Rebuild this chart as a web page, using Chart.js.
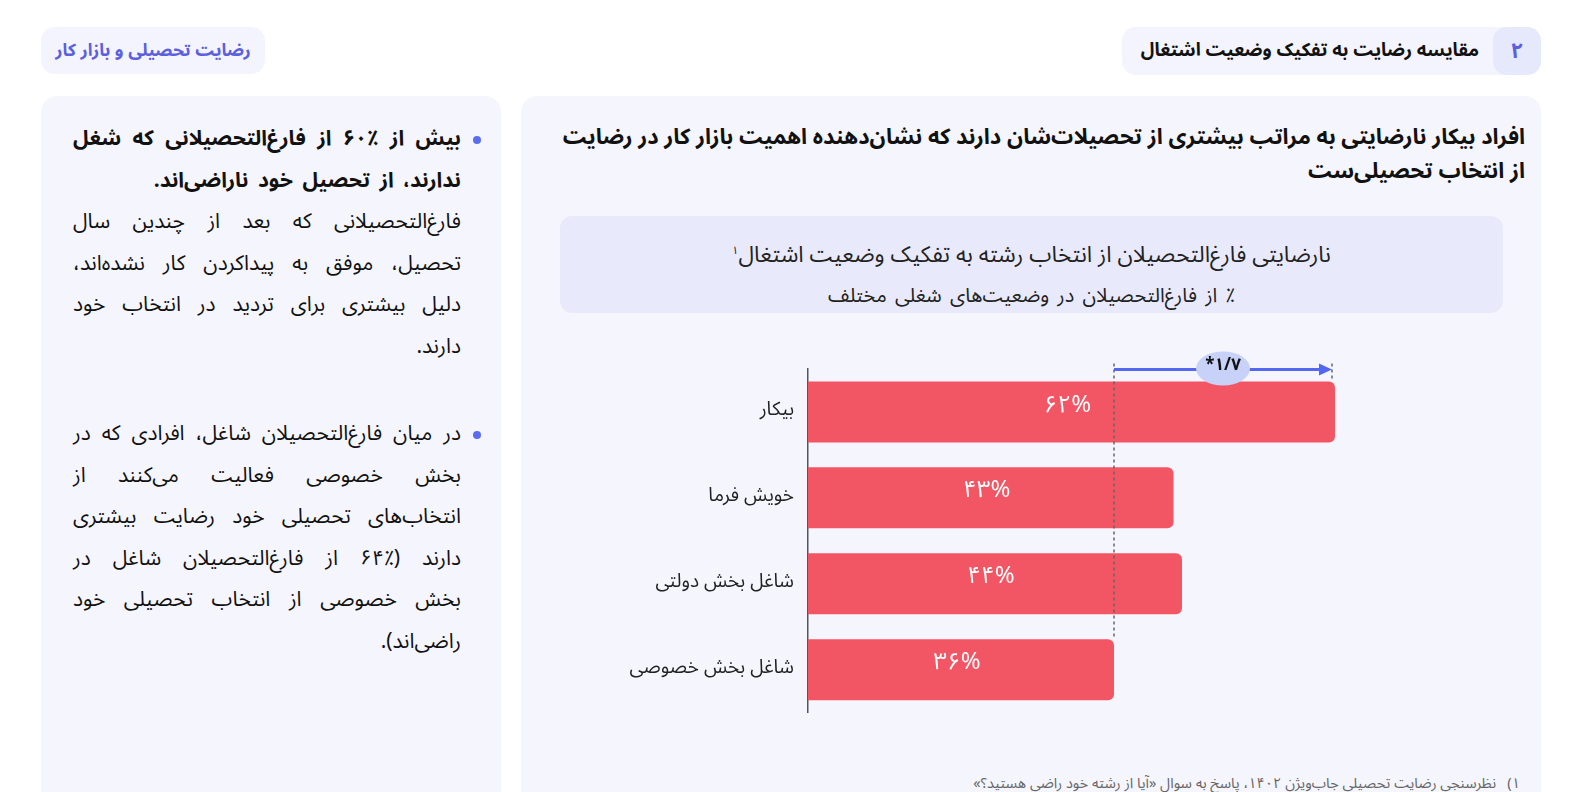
<!DOCTYPE html>
<html lang="fa">
<head>
<meta charset="utf-8">
<script src="https://cdn.jsdelivr.net/npm/chart.js@4"></script>
<style>
  body { margin: 0; width: 1588px; height: 792px; background: #fff; overflow: hidden;
         font-family: "Noto Sans Arabic", "DejaVu Sans", sans-serif; position: relative; }
  .card { position: absolute; background: #f5f6fd; border-radius: 16px; }
  .pill { position: absolute; background: #f3f4fd; border-radius: 14px; direction: rtl; }
  .num { position: absolute; background: #e6e8fc; border-radius: 14px; color: #5b5fe0;
         font-weight: bold; font-size: 22px; text-align: center; line-height: 48px; }
  .txt { position: absolute; direction: rtl; color: #111; }
  ul { margin: 0; padding: 0 22px 0 0; list-style: none; }
  li { position: relative; text-align: justify; font-size: 21px; line-height: 41.5px; word-spacing: 4px; }
  li::before { content: ""; position: absolute; right: -20px; top: 18px; width: 8px; height: 8px;
               border-radius: 50%; background: #5b6cf0; }
</style>
</head>
<body>
<div class="card" style="left:41px;top:96px;width:460px;height:710px"></div>
<div class="card" style="left:521px;top:96px;width:1020px;height:710px"></div>

<div class="pill" style="left:41px;top:27px;width:224px;height:47px;text-align:center;line-height:47px;
     color:#5b5fe0;font-weight:bold;font-size:17.5px">رضایت تحصیلی و بازار کار</div>
<div class="pill" style="left:1122px;top:27px;width:419px;height:48px;"></div>
<div class="txt" style="left:1122px;top:27px;width:357px;height:48px;line-height:48px;font-weight:bold;font-size:18.5px;text-align:right">مقایسه رضایت به تفکیک وضعیت اشتغال</div>
<div class="num" style="left:1493px;top:27px;width:48px;height:48px">۲</div>

<div class="txt" style="left:73px;top:118px;width:410px">
  <ul>
    <li><b>بیش از ٪۶۰ از فارغ‌التحصیلانی که شغل ندارند، از تحصیل خود ناراضی‌اند.</b><br>فارغ‌التحصیلانی که بعد از چندین سال تحصیل، موفق به پیداکردن کار نشده‌اند، دلیل بیشتری برای تردید در انتخاب خود دارند.</li>
    <li style="margin-top:46px">در میان فارغ‌التحصیلان شاغل، افرادی که در بخش خصوصی فعالیت می‌کنند از انتخاب‌های تحصیلی خود رضایت بیشتری دارند (٪۶۴ از فارغ‌التحصیلان شاغل در بخش&nbsp;خصوصی از انتخاب تحصیلی خود راضی‌اند).</li>
  </ul>
</div>

<div class="txt" style="left:555px;top:120px;width:970px;font-weight:bold;font-size:22px;line-height:34px;text-align:right">افراد بیکار نارضایتی به مراتب بیشتری از تحصیلات‌شان دارند که نشان‌دهنده اهمیت بازار کار در رضایت از انتخاب تحصیلی‌ست</div>

<div style="position:absolute;left:560px;top:216px;width:943px;height:97px;background:#e8eafb;border-radius:12px"></div>
<div class="txt" style="left:560px;top:231px;width:943px;text-align:center;font-size:22.5px;color:#222">نارضایتی فارغ‌التحصیلان از انتخاب رشته به تفکیک وضعیت اشتغال<sup style="font-size:11px">۱</sup></div>
<div class="txt" style="left:560px;top:275px;width:943px;text-align:center;font-size:20px;word-spacing:3px;color:#222">٪ از فارغ‌التحصیلان در وضعیت‌های شغلی مختلف</div>

<div class="txt" style="left:880px;top:768px;width:640px;text-align:right;font-size:14.5px;color:#666">۱)&nbsp;&nbsp; نظرسنجی رضایت تحصیلی جاب‌ویژن ۱۴۰۲، پاسخ به سوال «آیا از رشته خود راضی هستید؟»</div>

<div style="position:absolute;left:560px;top:330px;width:960px;height:400px">
  <canvas id="myChart"></canvas>
</div>

<script>
var categories = ['بیکار', 'خویش فرما', 'شاغل بخش دولتی', 'شاغل بخش خصوصی'];
var values = [62, 43, 44, 36];
var ratioLabel = '*۱/۷';

var barColor = '#f25664';
var faFont = '"Noto Sans Arabic", "DejaVu Sans", sans-serif';

function toFa(n) {
    return String(n).replace(/[0-9]/g, function (d) { return '۰۱۲۳۴۵۶۷۸۹'[d]; });
}

// value labels inside the bars
var barLabels = {
    id: 'barLabels',
    afterDatasetsDraw: function (chart) {
        var ctx = chart.ctx;
        var meta = chart.getDatasetMeta(0);
        ctx.save();
        ctx.fillStyle = '#fff';
        ctx.font = '24px ' + faFont;
        ctx.textAlign = 'center';
        ctx.textBaseline = 'middle';
        meta.data.forEach(function (bar, i) {
            ctx.fillText(toFa(values[i]) + '%', (bar.x + bar.base) / 2 - 4, bar.y - 4);
        });
        ctx.restore();
    }
};

// gap arrow between lowest and highest bar
var gapArrow = {
    id: 'gapArrow',
    afterDatasetsDraw: function (chart) {
        var ctx = chart.ctx;
        var meta = chart.getDatasetMeta(0);
        var x = chart.scales.x;
        var top = meta.data[0];
        var low = meta.data[3];
        var x1 = x.getPixelForValue(values[3]);
        var x2 = x.getPixelForValue(values[0]) - 3;
        var barTop = top.y - top.height / 2;
        var ay = barTop - 12;

        ctx.save();
        ctx.strokeStyle = '#666';
        ctx.lineWidth = 1.5;
        ctx.setLineDash([3, 3]);
        ctx.beginPath();
        ctx.moveTo(x1, ay - 6);
        ctx.lineTo(x1, low.y - low.height / 2);
        ctx.moveTo(x2, ay - 6);
        ctx.lineTo(x2, barTop);
        ctx.stroke();
        ctx.setLineDash([]);

        ctx.strokeStyle = '#5467f0';
        ctx.fillStyle = '#5467f0';
        ctx.lineWidth = 3;
        ctx.beginPath();
        ctx.moveTo(x1, ay);
        ctx.lineTo(x2 - 10, ay);
        ctx.stroke();
        ctx.beginPath();
        ctx.moveTo(x2, ay);
        ctx.lineTo(x2 - 13, ay - 6);
        ctx.lineTo(x2 - 13, ay + 6);
        ctx.closePath();
        ctx.fill();

        var cx = (x1 + x2) / 2;
        ctx.fillStyle = '#c8d2f8';
        ctx.beginPath();
        ctx.ellipse(cx, ay - 1, 27, 17, 0, 0, Math.PI * 2);
        ctx.fill();
        ctx.fillStyle = '#111';
        ctx.font = 'bold 17px ' + faFont;
        ctx.textAlign = 'center';
        ctx.textBaseline = 'middle';
        ctx.fillText(ratioLabel, cx, ay - 2);
        ctx.restore();
    }
};

var ctx = document.getElementById('myChart').getContext('2d');
var chart = new Chart(ctx, {
    type: 'bar',
    data: {
        labels: categories,
        datasets: [{
            data: values,
            backgroundColor: barColor,
            borderRadius: 6,
            barPercentage: 0.71,
            categoryPercentage: 1
        }]
    },
    options: {
        indexAxis: 'y',
        responsive: true,
        maintainAspectRatio: false,
        animation: false,
        layout: { padding: { top: 39, bottom: 17, right: 185, left: 0 } },
        plugins: { legend: { display: false }, tooltip: { enabled: false } },
        scales: {
            x: { display: false, min: 0, max: 62 },
            y: {
                grid: { display: false },
                border: { display: true, color: '#555', width: 1.5 },
                ticks: { color: '#222', font: { size: 19, family: faFont }, padding: 6 },
                afterFit: function (scale) { scale.width = 248; }
            }
        }
    },
    plugins: [barLabels, gapArrow]
});
</script>
</body>
</html>
